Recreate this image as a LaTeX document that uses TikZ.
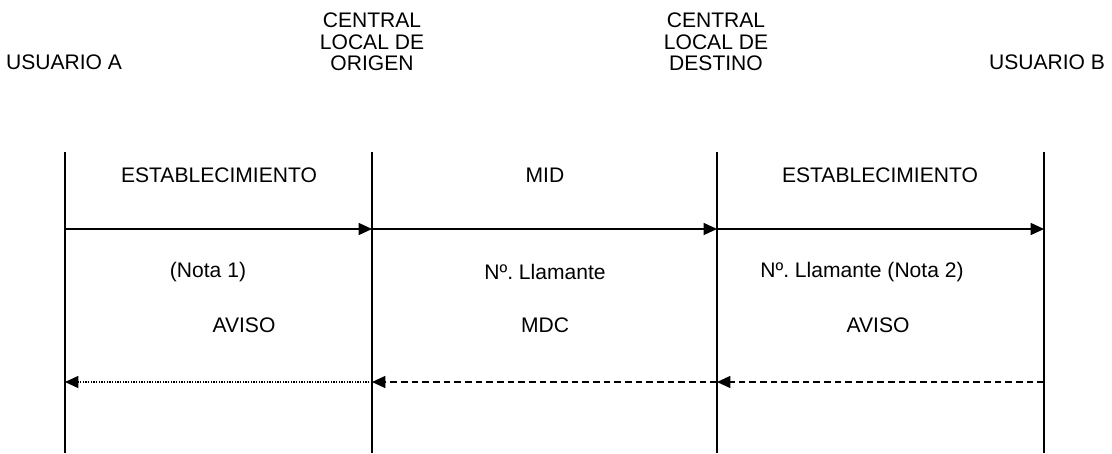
\documentclass[tikz,border=0pt]{standalone}
\usepackage{fontspec}
\setmainfont{Liberation Sans}
\usetikzlibrary{arrows.meta}
\frenchspacing
\tikzset{
	x=0.75pt, y=-0.75pt,
	every node/.style={font=\fontsize{15.8}{16.2}\selectfont, align=center, inner sep=0pt},
	linea/.style={line width=1.1pt},
	msg/.style={line width=1pt, -{Triangle[length=10pt, width=9pt]}},
	resp/.style={msg, dash pattern=on 5pt off 3pt},
	aviso/.style={msg, dash pattern=on 1pt off 1pt}}
\begin{document}
\begin{tikzpicture}
		\useasboundingbox (0,0) rectangle (1112,453);
		% cabeceras
		\node (ua) at (64,62) {USUARIO A};
		\node (co) at (372,42) {CENTRAL\\LOCAL DE\\ORIGEN};
		\node (cd) at (716,42) {CENTRAL\\LOCAL DE\\DESTINO};
		\node (ub) at (1047,62) {USUARIO B};

		% lineas de tiempo
		\foreach \n/\x in {a/65, o/372, d/717, b/1044} {
			\coordinate (\n top) at (\x,152);
			\coordinate (\n bot) at (\x,453);
			\coordinate (\n 1) at (\x,229);
			\coordinate (\n 2) at (\x,382);
			\draw[linea] (\n top) -- (\n bot);
		}

		% mensajes
		\draw[msg] (a1) -- (o1);
		\draw[msg] (o1) -- (d1);
		\draw[msg] (d1) -- (b1);
		\draw[resp] (b2) -- (d2);
		\draw[resp] (d2) -- (o2);
		\draw[aviso] (o2) -- (a2);

		% textos
		\node (est1) at (219,175) {ESTABLECIMIENTO};
		\node (mid) at (545,175) {MID};
		\node (est2) at (880,175) {ESTABLECIMIENTO};
		\node (nota1) at (208,272) {(Nota 1)};
		\node (llam1) at (545,272) {Nº. Llamante};
		\node (llam2) at (862,272) {Nº. Llamante (Nota 2)};
		\node (aviso1) at (244,325) {AVISO};
		\node (mdc) at (545,325) {MDC};
		\node (aviso2) at (878,325) {AVISO};
	\end{tikzpicture}
\end{document}
